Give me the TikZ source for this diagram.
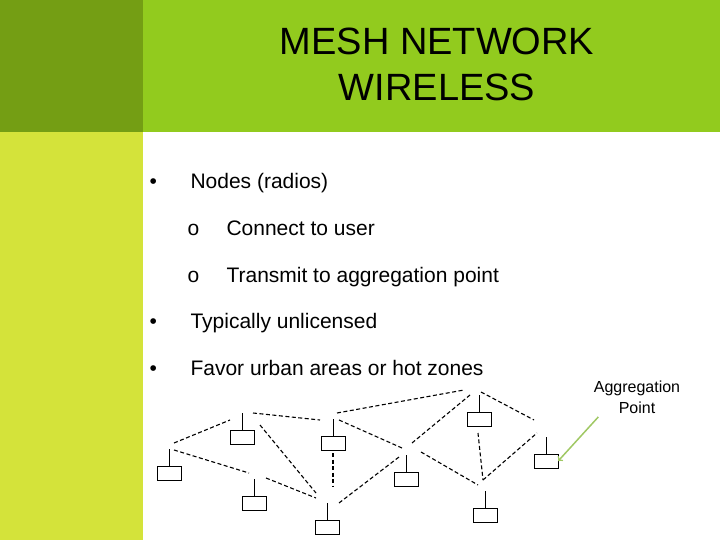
\documentclass[tikz,border=0pt]{standalone}
\usepackage{fontspec}
\setmainfont{Liberation Sans}
\usetikzlibrary{positioning}
\definecolor{darkolive}{RGB}{116,158,20}
\definecolor{headgreen}{RGB}{146,203,30}
\definecolor{limeside}{RGB}{212,227,58}
\definecolor{arrowgreen}{RGB}{160,200,100}
\begin{document}
\begin{tikzpicture}[
    x=1pt, y=-1pt,
    radio/.style={rectangle, draw, thin, minimum width=24pt, minimum height=14pt, inner sep=0pt},
    link/.style={draw, dashed, line width=1.1pt, dash pattern=on 4pt off 2.5pt},
    bullet/.style={anchor=base west, font=\fontsize{21}{24}\selectfont}
]
\useasboundingbox (0,0) rectangle (720,540);

% Background
\fill[darkolive] (0,0) rectangle (143,132);
\fill[limeside] (0,132) rectangle (143,540);
\fill[headgreen] (143,0) rectangle (720,132);

% Title
\node[font=\fontsize{38}{46}\selectfont, align=center] (title) at (437,64) {MESH NETWORK\\WIRELESS};

% Bullets
\node[bullet] (b1) at (146,189) {\textbullet};
\node[bullet] (t1) at (187,189) {Nodes (radios)};
\node[bullet] (b2) at (184,236) {o};
\node[bullet] (t2) at (223,236) {Connect to user};
\node[bullet] (b3) at (184,282) {o};
\node[bullet] (t3) at (223,282) {Transmit to aggregation point};
\node[bullet] (b4) at (146,328) {\textbullet};
\node[bullet] (t4) at (187,328) {Typically unlicensed};
\node[bullet] (b5) at (146,375) {\textbullet};
\node[bullet] (t5) at (187,375) {Favor urban areas or hot zones};

% Radios
\foreach \name/\x/\y in {r1/169/473, r2/242/437, r3/333/443, r4/479/419, r5/546/461,
                         r6/254/503, r7/327/527, r8/406/479, r9/485/515}{
  \node[radio] (\name) at (\x,\y) {};
  \draw (\name.north) -- ++(0,-17);
}

% Links
\foreach \ax/\ay/\bx/\by in {174/443/230/420, 174/450/249/473, 266/478/316/498,
    253/413/320/420, 260/425/316/493, 333/453/333/487, 339/503/399/457,
    337/413/464/390, 339/420/402/448, 412/443/470/395, 481/392/534/420,
    421/452/478/485, 478/433/483/480, 483/480/537/433}{
  \draw[link] (\ax,\ay) -- (\bx,\by);
}

% Aggregation label
\node[font=\fontsize{16}{21}\selectfont, align=center] (agg) at (637,397) {Aggregation\\Point};
\draw[->, arrowgreen, line width=1.5pt] (agg.south west) ++(8,0) -- (r5.east);
\end{tikzpicture}
\end{document}
